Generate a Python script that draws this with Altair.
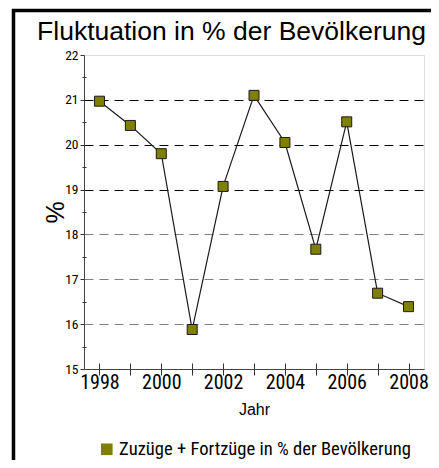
import altair as alt
import pandas as pd

# ---- data ----
years = [1998, 1999, 2000, 2001, 2002, 2003, 2004, 2005, 2006, 2007, 2008]
values = [20.97, 20.43, 19.80, 15.88, 19.07, 21.10, 20.05, 17.67, 20.51, 16.69, 16.39]
series_name = "Zuzüge + Fortzüge in % der Bevölkerung"
title_text = "Fluktuation in % der Bevölkerung"
x_title = "Jahr"
y_title = "%"
y_major = [15, 16, 17, 18, 19, 20, 21, 22]
y_minor = [15.5, 16.5, 17.5, 18.5, 19.5, 20.5, 21.5]
x_ticks = years

df = pd.DataFrame({"Jahr": years, "Wert": values, "Reihe": [series_name] * len(years)})
one = pd.DataFrame({"k": [0]})

NARROW = "Roboto Condensed, Liberation Sans Narrow, DejaVu Sans Condensed, sans-serif"
SANS = "Liberation Sans, Arial, sans-serif"

xscale = alt.Scale(domain=[1997.5, 2008.5], nice=False, zero=False)
yscale = alt.Scale(domain=[15, 22], nice=False, zero=False)

line = alt.Chart(df).mark_line(color="#1a1a1a", strokeWidth=1.2).encode(
    x=alt.X("Jahr:Q", scale=xscale, axis=alt.Axis(
        orient="bottom", values=x_ticks, format="d",
        labelExpr="datum.value % 2 == 0 ? datum.label : ''",
        tickSize=6, tickColor="#333333", domainColor="#444444",
        labelFont=NARROW, labelFontSize=20, labelColor="#000000", labelPadding=-3,
        title=x_title, titleFont=SANS, titleFontSize=16, titleFontWeight="normal",
        titleColor="#000000", titlePadding=9, grid=False)),
    y=alt.Y("Wert:Q", scale=yscale, axis=alt.Axis(
        orient="left", values=y_major, format="d",
        tickSize=4, tickColor="#333333", domainColor="#444444",
        labelFont=NARROW, labelFontSize=13.5, labelColor="#000000", labelPadding=2,
        grid=True, gridDash=[9, 6], gridWidth=1,
        gridColor={"condition": {"test": "datum.value >= 19", "value": "#000000"}, "value": "#808080"},
        gridOpacity={"condition": {"test": "datum.value >= 22 || datum.value <= 15", "value": 0}, "value": 1},
        title=y_title, titleFont=SANS, titleFontSize=25, titleFontWeight="normal",
        titleColor="#000000", titlePadding=-4)),
)

points = alt.Chart(df).mark_point(
    shape="square", filled=True, size=100, stroke="#1a1a1a", strokeWidth=1, opacity=1
).encode(
    x=alt.X("Jahr:Q", scale=xscale, axis=alt.Axis(
        orient="bottom", values=x_ticks, offset=-6, tickSize=6, tickColor="#333333",
        labels=False, domain=False, grid=False, title=None)),
    y=alt.Y("Wert:Q", scale=yscale, axis=alt.Axis(
        orient="left", values=y_minor, offset=-2, tickSize=4, tickColor="#333333",
        labels=False, domain=False, grid=False, title=None)),
    color=alt.Color("Reihe:N", scale=alt.Scale(range=["#808000"]), legend=alt.Legend(
        orient="none", legendX=13.5, legendY=385, title=None, padding=0,
        symbolType="square", symbolSize=135, symbolStrokeWidth=0, symbolOpacity=1,
        labelFont=NARROW, labelFontSize=18.6, labelColor="#000000", labelOffset=3,
        labelLimit=400)),
)

frame_left = alt.Chart(one).mark_rule(color="#000000", strokeWidth=3.5).encode(
    x=alt.value(-70.5), y=alt.value(-46), y2=alt.value(405))
frame_top = alt.Chart(one).mark_rule(color="#000000", strokeWidth=3.5).encode(
    x=alt.value(-72), x2=alt.value(347), y=alt.value(-44.5))

chart = alt.layer(frame_left, frame_top, line, points).resolve_axis(
    x="independent", y="independent"
).properties(
    width=340, height=314,
    padding={"left": 76, "top": 47, "right": 7, "bottom": 91},
    autosize="none",
    title=alt.TitleParams(title_text, font=SANS, fontSize=26.5, fontWeight="normal",
                          color="#000000", anchor="middle", dx=-22.5, dy=38.5, offset=0),
).configure_view(stroke="#808080", strokeWidth=1).configure(background="#ffffff")

chart.save("out.html", embed_options={"renderer": "svg", "actions": False})
